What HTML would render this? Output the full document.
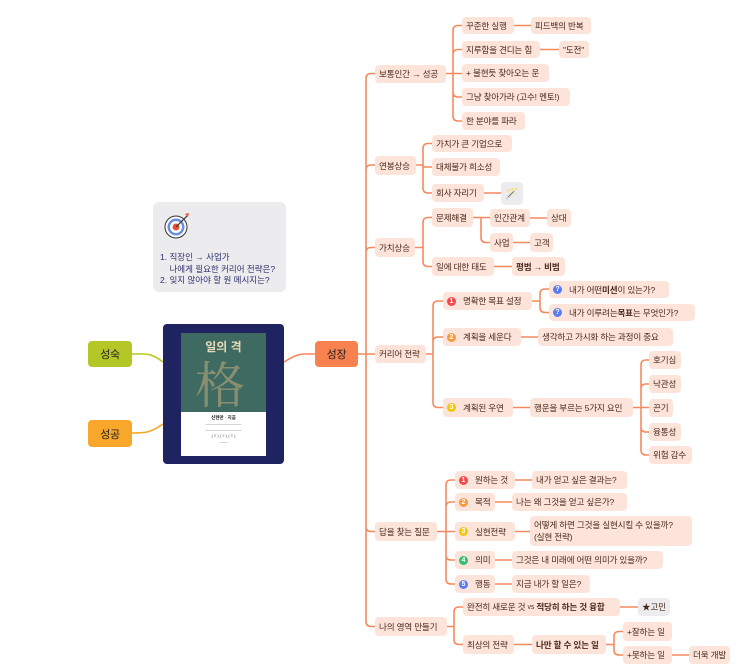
<!DOCTYPE html>
<html><head><meta charset="utf-8"><style>
body{margin:0;width:743px;height:671px;background:#fff;position:relative;overflow:hidden;font-family:"Liberation Sans","Noto Sans CJK KR",sans-serif}
.n{position:absolute;background:#fde4da;color:#4a2a1c;font-size:8.6px;letter-spacing:-0.2px;border-radius:4px;box-sizing:border-box;padding:0 4px;white-space:nowrap;display:flex;align-items:center;overflow:visible}
.b{font-weight:bold}
.g{background:#ececee}
.bd{display:inline-block;flex-shrink:0;width:9px;height:9px;border-radius:50%;color:#fff;font-size:7px;line-height:9px;text-align:center;margin-right:7px;font-weight:bold;letter-spacing:0}
svg{position:absolute;left:0;top:0}
</style></head><body>
<svg id="s" width="743" height="671"></svg>

<div style="position:absolute;left:153px;top:202px;width:133px;height:90px;background:#ececef;border-radius:6px"></div>
<svg width="743" height="671" style="pointer-events:none">
<circle cx="176" cy="227" r="11" fill="#fff" stroke="#333" stroke-width="1"/>
<circle cx="176" cy="227" r="8.5" fill="#6c8ee0"/><circle cx="176" cy="227" r="6" fill="#fff"/>
<circle cx="176" cy="227" r="3.5" fill="#e5533b"/><line x1="176" y1="227" x2="187" y2="216" stroke="#333" stroke-width="1.2"/>
<path d="M185 214 l4 -1 l-1 4z" fill="#e5533b"/>
</svg>
<div style="position:absolute;left:160px;top:252px;font-size:8.5px;color:#2d2f6b;line-height:11.5px;white-space:nowrap">1. 직장인 → 사업가<br>&nbsp;&nbsp;&nbsp;&nbsp;나에게 필요한 커리어 전략은?<br>2. 잊지 않아야 할 원 메시지는?</div>

<div style="position:absolute;left:163px;top:324px;width:121px;height:140px;background:#1f2461;border-radius:4px"></div>
<div style="position:absolute;left:181px;top:333px;width:85px;height:79px;background:#3f6a62;overflow:hidden">
<div style="position:absolute;left:0;width:85px;top:5px;text-align:center;color:#e8dcb8;font-size:12px;font-weight:bold">일의 격</div>
<div style="position:absolute;left:14px;top:24px;color:#b9a97a;font-size:50px;line-height:50px;opacity:.6;font-family:'Noto Serif CJK SC',serif">格</div>
</div>
<div style="position:absolute;left:181px;top:412px;width:85px;height:44px;background:#fff;font-size:4px;color:#555;text-align:center;line-height:6px;padding-top:3px;box-sizing:border-box">
<b style="font-size:4.5px;color:#222">신현만 · 지음</b><br>—————————<br>—————————<br>( ≡ ) ( ≡ ) ( ≡ )<br>——</div>

<div class="n" style="left:88px;top:341px;width:44px;height:26px;background:#b5c727;color:#222;font-size:11px;justify-content:center;border-radius:4px">성숙</div>
<div class="n" style="left:88px;top:420px;width:44px;height:27px;background:#f9a72b;color:#222;font-size:11px;justify-content:center">성공</div>
<div class="n" style="left:315px;top:341px;width:43px;height:26px;background:#f7814f;color:#222;font-size:11px;justify-content:center">성장</div>

<div class="n" style="left:375px;top:65px;width:71px;height:18px">보통인간 → 성공</div>
<div class="n" style="left:375px;top:156px;width:41px;height:19px">연봉상승</div>
<div class="n" style="left:375px;top:238px;width:40px;height:19px">가치상승</div>
<div class="n" style="left:375px;top:345px;width:51px;height:18px">커리어 전략</div>
<div class="n" style="left:375px;top:522px;width:62px;height:19px">답을 찾는 질문</div>
<div class="n" style="left:375px;top:617px;width:72px;height:19px">나의 영역 만들기</div>

<div class="n" style="left:462px;top:17px;width:52px;height:17px">꾸준한 실행</div>
<div class="n" style="left:531px;top:17px;width:60px;height:17px">피드백의 반복</div>
<div class="n" style="left:462px;top:41px;width:78px;height:17px">지루함을 견디는 힘</div>
<div class="n" style="left:559px;top:41px;width:30px;height:17px">"도전"</div>
<div class="n" style="left:462px;top:64px;width:87px;height:18px">+ 불현듯 찾아오는 운</div>
<div class="n" style="left:462px;top:88px;width:108px;height:18px">그냥 찾아가라 (고수! 멘토!)</div>
<div class="n" style="left:462px;top:112px;width:63px;height:18px">한 분야를 파라</div>

<div class="n" style="left:432px;top:135px;width:80px;height:17px">가치가 큰 기업으로</div>
<div class="n" style="left:432px;top:158px;width:68px;height:18px">대체불가 희소성</div>
<div class="n" style="left:432px;top:184px;width:52px;height:18px">회사 자리기</div>
<div class="n g" style="left:501px;top:182px;width:22px;height:23px;justify-content:center;font-size:11px;padding:0">🪄</div>

<div class="n" style="left:432px;top:208px;width:41px;height:19px">문제해결</div>
<div class="n" style="left:490px;top:209px;width:40px;height:18px">인간관계</div>
<div class="n" style="left:547px;top:209px;width:24px;height:18px">상대</div>
<div class="n" style="left:490px;top:233px;width:23px;height:19px">사업</div>
<div class="n" style="left:530px;top:233px;width:23px;height:19px">고객</div>
<div class="n" style="left:432px;top:257px;width:62px;height:19px">일에 대한 태도</div>
<div class="n b" style="left:512px;top:257px;width:53px;height:19px">평범 → 비범</div>

<div class="n" style="left:443px;top:292px;width:89px;height:18px"><span class="bd" style="background:#f5484a">1</span>명확한 목표 설정</div>
<div class="n" style="left:549px;top:281px;width:120px;height:17px"><span class="bd" style="background:#5b7cf0">?</span>내가 어떤 <b>미션</b>이 있는가?</div>
<div class="n" style="left:549px;top:304px;width:146px;height:17px"><span class="bd" style="background:#5b7cf0">?</span>내가 이루려는 <b>목표</b>는 무엇인가?</div>
<div class="n" style="left:443px;top:328px;width:78px;height:18px"><span class="bd" style="background:#f79a3e">2</span>계획을 세운다</div>
<div class="n" style="left:538px;top:328px;width:135px;height:18px">생각하고 가시화 하는 과정이 중요</div>
<div class="n" style="left:443px;top:398px;width:70px;height:19px"><span class="bd" style="background:#f2c80f">3</span>계획된 우연</div>
<div class="n" style="left:530px;top:398px;width:103px;height:19px">행운을 부르는 5가지 요인</div>
<div class="n" style="left:649px;top:351px;width:32px;height:18px">호기심</div>
<div class="n" style="left:649px;top:375px;width:32px;height:18px">낙관성</div>
<div class="n" style="left:649px;top:399px;width:24px;height:18px">끈기</div>
<div class="n" style="left:649px;top:423px;width:32px;height:18px">융통성</div>
<div class="n" style="left:649px;top:446px;width:43px;height:18px">위험 감수</div>

<div class="n" style="left:455px;top:471px;width:60px;height:18px"><span class="bd" style="background:#f5484a">1</span>원하는 것</div>
<div class="n" style="left:532px;top:471px;width:95px;height:18px">내가 얻고 싶은 결과는?</div>
<div class="n" style="left:455px;top:493px;width:40px;height:18px"><span class="bd" style="background:#f79a3e">2</span>목적</div>
<div class="n" style="left:512px;top:493px;width:115px;height:18px">나는 왜 그것을 얻고 싶은가?</div>
<div class="n" style="left:455px;top:522px;width:60px;height:19px"><span class="bd" style="background:#f2c80f">3</span>실현전략</div>
<div class="n" style="left:530px;top:516px;width:162px;height:30px;line-height:12px;white-space:nowrap;display:block;padding-top:3px">어떻게 하면 그것을 실현시킬 수 있을까?<br>(실현 전략)</div>
<div class="n" style="left:455px;top:551px;width:40px;height:18px"><span class="bd" style="background:#2fbf71">4</span>의미</div>
<div class="n" style="left:512px;top:551px;width:151px;height:18px">그것은 내 미래에 어떤 의미가 있을까?</div>
<div class="n" style="left:455px;top:575px;width:40px;height:18px"><span class="bd" style="background:#5b7cf0">5</span>행동</div>
<div class="n" style="left:512px;top:575px;width:78px;height:18px">지금 내가 할 일은?</div>

<div class="n" style="left:463px;top:598px;width:157px;height:18px">완전히 새로운 것&nbsp;<span style="font-size:7px">vs</span>&nbsp;<b>적당히 하는 것 융합</b></div>
<div class="n g" style="left:638px;top:598px;width:32px;height:18px">★고민</div>
<div class="n" style="left:463px;top:635px;width:51px;height:19px">최상의 전략</div>
<div class="n b" style="left:532px;top:635px;width:74px;height:19px">나만 할 수 있는 일</div>
<div class="n" style="left:623px;top:622px;width:49px;height:19px">+잘하는 일</div>
<div class="n" style="left:623px;top:646px;width:49px;height:18px">+못하는 일</div>
<div class="n" style="left:689px;top:646px;width:41px;height:18px">더욱 개발</div>

<script>
var d="";
function tree(px,py,vx,ch){d+="M"+px+" "+py+"H"+vx;ch.forEach(function(c){var cl=c[0],cy=c[1],r=Math.min(5,Math.abs(cy-py));
 if(Math.abs(cy-py)<1){d+="M"+vx+" "+py+"H"+cl;}else{var s=cy>py?1:-1;d+="M"+vx+" "+py+"V"+(cy-s*r)+"Q"+vx+" "+cy+" "+(vx+r)+" "+cy+"H"+cl;}});}
function line(a,y,b){d+="M"+a+" "+y+"H"+b;}
tree(358,354,366,[[375,73.5],[375,165],[375,247.5],[375,354],[375,531.5],[375,626.5]]);
tree(446,73.5,453,[[462,25.5],[462,49.5],[462,73],[462,97],[462,121]]);
line(514,25.5,531);line(540,49.5,559);
tree(416,165,423,[[432,143.5],[432,167],[432,193]]);line(484,193,501);
tree(415,247.5,423,[[432,217.5],[432,266.5]]);tree(473,217.5,481,[[490,218],[490,242.5]]);
line(530,218,547);line(513,242.5,530);line(494,266.5,512);
tree(426,354,433,[[443,301],[443,337],[443,407.5]]);tree(532,301,540,[[549,289],[549,312.5]]);
line(521,337,538);line(513,407.5,530);
tree(633,407.5,641,[[649,360],[649,384],[649,408],[649,432],[649,455]]);
tree(437,531.5,446,[[455,480],[455,502],[455,531.5],[455,560],[455,584]]);
line(515,480,532);line(495,502,512);line(515,531.5,530);line(495,560,512);line(495,584,512);
tree(447,626.5,454,[[463,607],[463,644.5]]);line(620,607,638);line(514,644.5,532);
tree(606,644.5,614,[[623,631.5],[623,655]]);line(672,655,689);
var s=document.getElementById("s");
s.innerHTML='<path d="'+d+'" fill="none" stroke="#f58a5e" stroke-width="1.6"/>'+
'<path d="M284 362 C300 352 303 354 315 354" fill="none" stroke="#f58a5e" stroke-width="1.6"/>'+
'<path d="M163 362 C150 352 145 354 132 354" fill="none" stroke="#b8c92a" stroke-width="1.6"/>'+
'<path d="M163 424 C150 433 145 433 132 433" fill="none" stroke="#f5a623" stroke-width="1.6"/>';
</script>
</body></html>
